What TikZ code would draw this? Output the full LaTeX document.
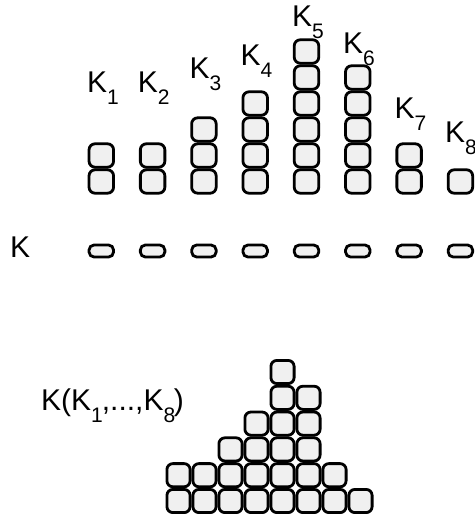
\documentclass[tikz,border=0pt]{standalone}
\usepackage{fontspec}
\setmainfont{Liberation Sans}
\newcommand\sbs[1]{\raisebox{-12pt}{\fontsize{21}{21}\selectfont #1}}
\begin{document}
\begin{tikzpicture}[x=1pt,y=-1pt,
  cell/.style={draw=black, line width=2.8pt, fill=cellgray, rounded corners=6pt,
    minimum width=24.5pt, minimum height=23.4pt, inner sep=0pt, outer sep=0pt},
  pcell/.style={cell, minimum width=23.2pt, minimum height=23.2pt},
  flat/.style={cell, minimum height=12pt, rounded corners=5pt},
  lab/.style={font=\fontsize{30}{32}\selectfont, inner sep=0pt, anchor=base west}]
\definecolor{cellgray}{HTML}{F0F0F0}
\useasboundingbox (0,0) rectangle (474,514);
% top columns and the K row
\foreach \i/\h in {1/2,2/2,3/3,4/4,5/6,6/5,7/2,8/1}{
  \foreach \k in {1,...,\h}{
    \node[cell] (t\i-\k) at ({101.3+51.3*(\i-1)},{181.5-26*(\k-1)}) {};
  }
  \node[flat] (f\i) at ({101.3+51.3*(\i-1)},251) {};
}
% labels
\foreach \i/\x/\y in {1/87/92,2/137.7/92,3/189.4/78,4/240.4/65,5/292/27,6/343/53,7/394.4/118,8/445/142}{
  \node[lab] (l\i) at (\x,\y) {K\sbs{\i}};
}
\node[lab] (lk) at (10,257) {K};
% combined pile
\foreach \r/\a/\b in {1/1/8,2/1/7,3/3/6,4/4/6,5/5/6,6/5/5}{
  \foreach \j in {\a,...,\b}{
    \node[pcell] (p\r-\j) at ({178.5+26*(\j-1)},{501-25.8*(\r-1)}) {};
  }
}
\node[lab] (lkk) at (41,410) {K(K\sbs{1}\kern-1pt,...,K\sbs{8}\kern-1.5pt)};
\end{tikzpicture}
\end{document}
